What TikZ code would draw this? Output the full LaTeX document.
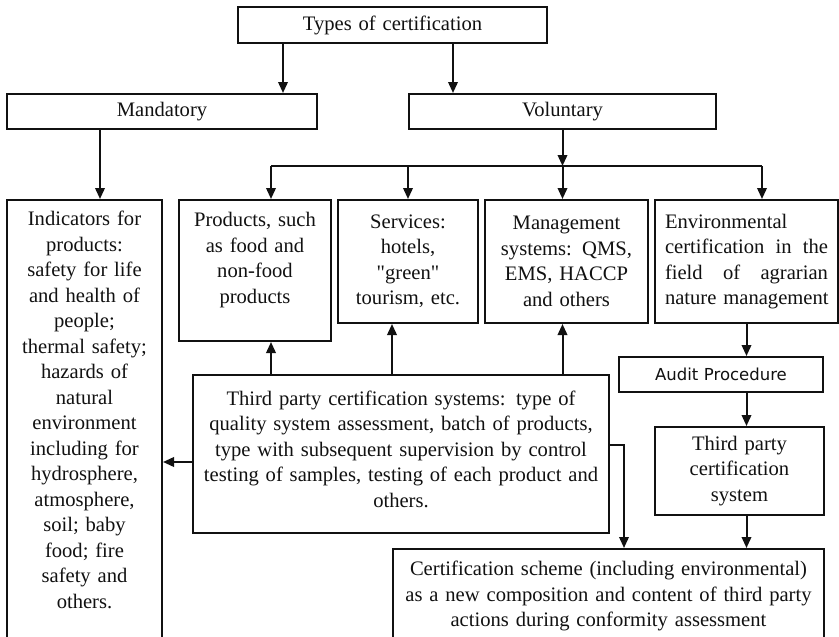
\documentclass[tikz,border=0pt]{standalone}
\usepackage{fontspec}
\setmainfont{Liberation Serif}[Ligatures=TeXOff]
\newfontfamily\auditfont{DejaVu Sans}
\usepackage{xcolor}
\usepackage{tikz}
\usetikzlibrary{arrows.meta}
\definecolor{Ink}{HTML}{111111}

\tikzset{
    cbox/.style={draw=Ink, text=Ink, line width=2pt, align=center, inner xsep=4pt, inner ysep=0pt,
        font=\fontsize{20.6pt}{25.5pt}\selectfont},
    arr/.style={draw=Ink, line width=2pt, -{Triangle[length=11pt,width=9.5pt]}},
    link/.style={draw=Ink, line width=2pt},
}

\begin{document}
\begin{tikzpicture}[x=1pt,y=-1pt]
        \useasboundingbox (0,0) rectangle (839,637);
        \fill[white] (0,0) rectangle (839,637);

        \node[cbox, text width=301pt, minimum height=36pt] (types) at (392.5,25) {Types of certification};
        \node[cbox, text width=302pt, minimum height=35pt] (mand) at (162,111.5) {Mandatory};
        \node[cbox, text width=299pt, minimum height=35pt] (vol) at (562.5,111.5) {Voluntary};

        \node[cbox, text width=147pt, minimum height=445pt] (ind) at (84.5,422.5)
            {Indicators for\\products:\\safety for life\\and health of\\people;\\thermal safety;\\hazards of\\natural\\environment\\including for\\hydrosphere,\\atmosphere,\\soil; baby\\food; fire\\safety and\\others.\\\mbox{}};
        \node[cbox, text width=144pt, minimum height=141pt] (prod) at (255,270.5)
            {Products, such\\as food and\\non-food\\products\\\mbox{}};
        \node[cbox, text width=132pt, minimum height=123pt] (serv) at (408,261.5)
            {Services:\\hotels,\\"green"\\tourism, etc.};
        \node[cbox, text width=155pt, minimum height=123pt] (mgmt) at (566.5,261.5)
            {Management\\systems: QMS,\\EMS, HACCP\\and others};
        \node[cbox, align=left, inner xsep=10pt, text width=163pt, minimum height=123pt] (env) at (746.5,261.5)
            {Environmental\\certification\hfill in\hfill the\\field\hfill of\hfill agrarian\\\mbox{nature management}};

        \node[cbox, text width=196pt, minimum height=35pt, font=\auditfont\fontsize{16.5pt}{20pt}\selectfont] (audit) at (721,374.5) {Audit Procedure};
        \node[cbox, text width=408pt, minimum height=158pt] (tp) at (401,454)
            {Third party certification systems: type of\\quality system assessment, batch of products,\\type with subsequent supervision by control\\testing of samples, testing of each product and\\others.\\[-15pt]\mbox{}};
        \node[cbox, text width=161pt, minimum height=88pt] (tpcs) at (739.5,471)
            {Third party\\certification\\system};
        \node[cbox, text width=423pt, minimum height=94pt] (scheme) at (608.5,596)
            {Certification scheme (including environmental)\\as a new composition and content of third party\\actions during conformity assessment};

        \coordinate (tm) at ([xshift=46pt]types.south west);
        \coordinate (tv) at ([xshift=45pt]vol.north west);
        \coordinate (mi) at ([xshift=94pt]mand.south west);
        \coordinate (forkL) at (271,166);
        \coordinate (forkR) at (762,166);
        \coordinate (sv) at ([xshift=55pt]serv.south west);
        \coordinate (tpL) at ([yshift=-88pt]tp.north west);
        \coordinate (tpR) at ([yshift=-71pt]tp.north east);
        \coordinate (sc) at ([xshift=232pt]scheme.north west);

        \draw[arr] (tm) -- (tm |- mand.north);
        \draw[arr] (tv |- types.south) -- (tv);
        \draw[arr] (mi) -- (mi |- ind.north);

        \draw[arr] (vol.south) -- (vol.south |- forkL);
        \draw[link] (forkL) -- (forkR);
        \draw[arr] (forkL) -- (forkL |- prod.north);
        \draw[arr] (serv.north |- forkL) -- (serv.north);
        \draw[arr] (vol.south |- forkL) -- (vol.south |- mgmt.north);
        \draw[arr] (forkR) -- (forkR |- env.north);

        \draw[arr] (tpL) -- (tpL -| ind.east);
        \draw[arr] (forkL |- tp.north) -- (forkL |- prod.south);
        \draw[arr] (sv |- tp.north) -- (sv);
        \draw[arr] (vol.south |- tp.north) -- (vol.south |- mgmt.south);
        \draw[arr] (tpR) -| (sc);

        \draw[arr] (env.south) -- (env.south |- audit.north);
        \draw[arr] (env.south |- audit.south) -- (env.south |- tpcs.north);
        \draw[arr] (env.south |- tpcs.south) -- (env.south |- scheme.north);
    \end{tikzpicture}
\end{document}
